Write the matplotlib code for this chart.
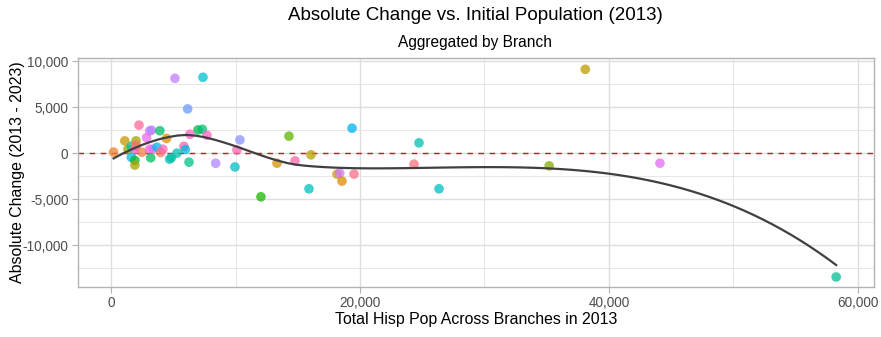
import numpy as np
import matplotlib
matplotlib.use("Agg")
import matplotlib.pyplot as plt
from matplotlib.ticker import FuncFormatter, MultipleLocator

plt.rcParams['font.family'] = ['Liberation Sans', 'DejaVu Sans']

# one point per branch: 2013 Hispanic population vs. change to 2023
pop_2013 = [58260, 38100, 44100, 35200, 14290, 14780, 13330, 16060, 15900, 12040,
            19360, 18150, 18370, 18550, 19520, 24740, 24340, 26350, 5130, 7380,
            6150, 2240, 3100, 3250, 3920, 2850, 1100, 4450, 6980, 7330,
            6330, 7700, 10350, 10110, 200, 1350, 1620, 2000, 1890, 2480,
            3100, 3360, 3680, 3980, 4160, 5290, 5850, 5960, 1620, 1910,
            1910, 3180, 4700, 4840, 6260, 8400, 9950, 2000, 2000]
abs_change = [-13480, 9130, -1090, -1380, 1850, -840, -1090, -180, -3880, -4750,
              2720, -2280, -2170, -3040, -2280, 1120, -1200, -3880, 8150, 8260,
              4820, 3050, 2420, 2500, 2440, 1680, 1340, 1600, 2530, 2600,
              2060, 1950, 1450, 360, 120, 430, 750, 720, 360, 100,
              430, 430, 650, 70, 430, 0, 750, 400, -450, -780,
              -1300, -500, -650, -500, -980, -1100, -1500, 1340, 900]
branch_id = [25, 9, 46, 14, 16, 54, 6, 10, 28, 18, 34, 7, 44, 5, 56, 27, 57, 29, 43, 30,
             39, 55, 45, 42, 22, 47, 8, 4, 20, 23, 51, 52, 40, 53, 3, 13, 26, 48, 50, 2,
             49, 46, 33, 1, 53, 27, 54, 32, 31, 19, 11, 21, 28, 26, 24, 42, 29, 12, 0]

x = np.array(pop_2013, dtype=float)
y = np.array(abs_change, dtype=float)


def hue_pal(n, c=100.0, l=65.0):
    # evenly spaced hues in HCL space
    h = np.deg2rad(np.linspace(15, 375, n + 1)[:n])
    u, v = c * np.cos(h), c * np.sin(h)
    xn, yn, zn = 95.047, 100.0, 108.883
    un = 4 * xn / (xn + 15 * yn + 3 * zn)
    vn = 9 * yn / (xn + 15 * yn + 3 * zn)
    Y = yn * ((l + 16) / 116) ** 3
    up = u / (13 * l) + un
    vp = v / (13 * l) + vn
    X = Y * 9 * up / (4 * vp)
    Z = Y * (12 - 3 * up - 20 * vp) / (4 * vp)
    xyz = np.vstack([X, np.full(n, Y), Z]) / 100
    m = np.array([[3.2406, -1.5372, -0.4986],
                  [-0.9689, 1.8758, 0.0415],
                  [0.0557, -0.2040, 1.0570]])
    rgb = m @ xyz
    rgb = np.where(rgb <= 0.0031308, 12.92 * rgb, 1.055 * np.abs(rgb) ** (1 / 2.4) - 0.055)
    return np.clip(rgb.T, 0, 1)


def local_fit(x, y, x0, span):
    # tricube-weighted local quadratic, returns value and slope at x0
    n = len(x)
    q = int(np.floor(n * span))
    d = np.abs(x - x0)
    h = np.sort(d)[q - 1]
    w = np.clip(1 - (d / h) ** 3, 0, None) ** 3
    dx = (x - x0) / 1000
    X = np.column_stack([np.ones(n), dx, dx ** 2])
    sw = np.sqrt(w)
    beta = np.linalg.lstsq(X * sw[:, None], y * sw, rcond=None)[0]
    return beta[0], beta[1] / 1000


def loess(x, y, xs, span=0.75, cell=0.2):
    # fits at kd-tree vertices, cubic Hermite in between
    xsrt = np.sort(x)
    n = len(x)
    fc = int(np.floor(n * span * cell))
    mu = 0.005 * (xsrt[-1] - xsrt[0])
    verts = {xsrt[0] - mu, xsrt[-1] + mu}

    def split(l, u):
        if u - l + 1 <= fc:
            return
        m = (l + u + 2) // 2 - 1
        verts.add((xsrt[m] + xsrt[m + 1]) / 2)
        split(l, m)
        split(m + 1, u)

    split(0, n - 1)
    v = np.array(sorted(verts))
    fv = np.array([local_fit(x, y, t, span) for t in v])
    out = []
    for t in xs:
        k = min(np.searchsorted(v, t, side='right') - 1, len(v) - 2)
        h = v[k + 1] - v[k]
        s = (t - v[k]) / h
        h00 = 2 * s ** 3 - 3 * s ** 2 + 1
        h10 = s ** 3 - 2 * s ** 2 + s
        h01 = -2 * s ** 3 + 3 * s ** 2
        h11 = s ** 3 - s ** 2
        out.append(h00 * fv[k, 0] + h10 * h * fv[k, 1] + h01 * fv[k + 1, 0] + h11 * h * fv[k + 1, 1])
    return np.array(out)


colors = hue_pal(max(branch_id) + 1)[branch_id]

fig = plt.figure(figsize=(8.81, 3.37), dpi=100)
ax = fig.add_axes([77.5 / 881, 1 - 287 / 337, (874 - 77.5) / 881, (287 - 58) / 337])

ax.axhline(0, color='#B22222', lw=1.0, ls=(0, (4, 4)), zorder=2)
ax.scatter(x, y, s=48, c=colors, alpha=0.75, edgecolors='none', zorder=3)

xs = np.linspace(x.min(), x.max(), 80)
ax.plot(xs, loess(x, y, xs), color='#404040', lw=1.6, zorder=4)

ax.set_xlim(-2700, 61300)
ax.set_ylim(-14570, 10360)
ax.xaxis.set_major_locator(MultipleLocator(20000))
ax.xaxis.set_minor_locator(MultipleLocator(10000))
ax.yaxis.set_major_locator(MultipleLocator(5000))
ax.yaxis.set_minor_locator(MultipleLocator(2500))
fmt = FuncFormatter(lambda val, _: f"{val:,.0f}")
ax.xaxis.set_major_formatter(fmt)
ax.yaxis.set_major_formatter(fmt)

ax.grid(True, which='major', color='#DEDEDE', lw=1.0)
ax.grid(True, which='minor', color='#E6E6E6', lw=0.7)
ax.set_axisbelow(True)
for sp in ax.spines.values():
    sp.set_color('#B3B3B3')
    sp.set_linewidth(1.0)
ax.tick_params(which='major', length=4, width=0.8, color='#B3B3B3',
               labelcolor='#4D4D4D', labelsize=9.8, pad=2.5)
ax.tick_params(which='minor', length=0)

ax.set_xlabel('Total Hisp Pop Across Branches in 2013', fontsize=11.4)
ax.set_ylabel('Absolute Change (2013 - 2023)', fontsize=11.4)
ax.xaxis.set_label_coords(0.5, -(312 - 287) / 229)
ax.yaxis.set_label_coords(-(77.5 - 25) / 796.5, 0.5)

fig.text(475 / 881, 1 - 16 / 337, 'Absolute Change vs. Initial Population (2013)',
         ha='center', va='center', fontsize=13.5)
fig.text(475 / 881, 1 - 43 / 337, 'Aggregated by Branch',
         ha='center', va='center', fontsize=11.2)

fig.savefig('out.png', dpi=100)
